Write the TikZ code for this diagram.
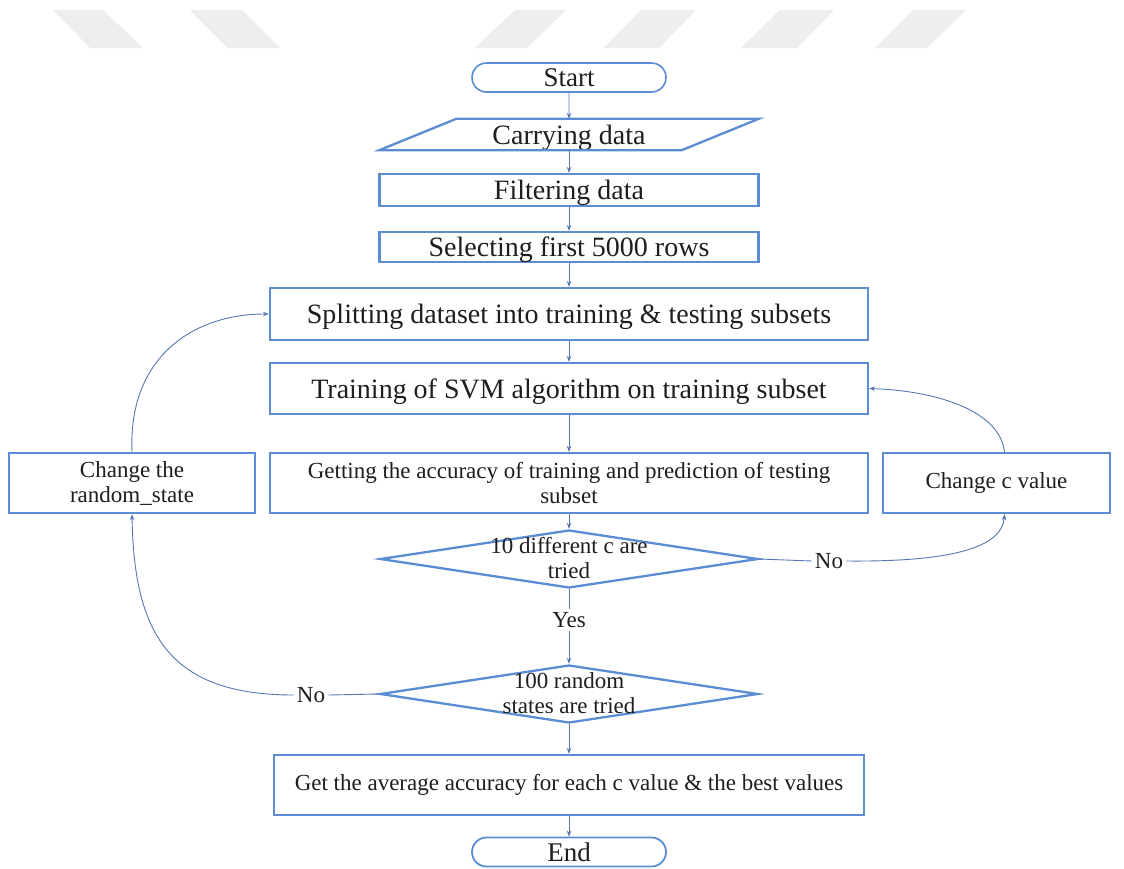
\documentclass[tikz,border=0pt]{standalone}
\usepackage{fontspec}
\setmainfont{Liberation Serif}
\usetikzlibrary{shapes.geometric,shapes.misc,arrows.meta,calc}
\definecolor{boxblue}{RGB}{92,140,210}
\definecolor{linkblue}{RGB}{85,120,180}
\definecolor{markgray}{RGB}{238,238,238}
\definecolor{ink}{RGB}{30,30,30}

\begin{document}
\begin{tikzpicture}[x=1pt,y=-1pt,
  box/.style={draw=boxblue, line width=2.3pt, rectangle, inner sep=0pt, text=ink, align=center},
  plainbox/.style={rectangle, inner sep=0pt, text=ink, align=center},
  big/.style={font=\fontsize{28}{30}\selectfont, text height=24pt, text depth=5pt},
  small/.style={font=\fontsize{23}{25}\selectfont},
  term/.style={draw=boxblue, line width=1.6pt, rounded rectangle, minimum width=194pt,
    minimum height=29pt, inner sep=0pt, text=ink, font=\fontsize{27}{29}\selectfont},
  dec/.style={draw=boxblue, line width=2.3pt, diamond, minimum width=378pt,
    minimum height=58pt, inner sep=0pt},
  lbl/.style={text=ink, align=center, inner sep=3pt},
  link/.style={draw=linkblue, line width=0.9pt},
  arr/.style={link, -{Stealth[length=6pt,width=4.5pt]}},
  band/.style={fill=markgray, draw=none},
]
% page
\useasboundingbox (0,0) rectangle (1124,868);
\fill[white] (0,0) rectangle (1124,868);

% light slanted bands along the top edge
\fill[band] (53,10) -- (103,10) -- (143,48) -- (90,48) -- cycle;
\fill[band] (190,10) -- (242,10) -- (280,48) -- (228,48) -- cycle;
\fill[band] (515,10) -- (566,10) -- (527,48) -- (475,48) -- cycle;
\fill[band] (641,10) -- (696,10) -- (659,48) -- (604,48) -- cycle;
\fill[band] (780,10) -- (834,10) -- (797,48) -- (741,48) -- cycle;
\fill[band] (913,10) -- (966,10) -- (927,48) -- (875,48) -- cycle;

% main column
\node[term] (start) at (569,77.5) {Start};
\node[plainbox, big, minimum width=379pt, minimum height=31pt] (carry) at (569,134.5) {Carrying data};
\draw[draw=boxblue, line width=2.3pt, line join=miter]
  (carry.south west) -- ($(carry.south east)+(-77,0)$) -- (carry.north east)
  -- ($(carry.north west)+(77,0)$) -- cycle;
\node[box, big, minimum width=379pt, minimum height=32pt] (filt) at (569,190) {Filtering data};
\node[box, big, minimum width=379pt, minimum height=30pt] (sel) at (569,247) {Selecting first 5000 rows};
\node[box, big, minimum width=598pt, minimum height=52pt] (split) at (569,314) {Splitting dataset into training \& testing subsets};
\node[box, big, minimum width=598pt, minimum height=51pt] (train) at (569,388.5) {Training of SVM algorithm on training subset};
\node[box, small, minimum width=598pt, minimum height=60pt] (get) at (569,483) {Getting the accuracy of training and prediction of testing\\subset};
\node[dec] (d1) at (569,559) {};
\node[lbl, small] at ([yshift=1pt]d1.center) {10 different c are\\tried};
\node[lbl, small] (yes) at (569,620) {Yes};
\node[dec] (d2) at (569,694) {};
\node[lbl, small] at ([yshift=1pt]d2.center) {100 random\\states are tried};
\node[box, small, minimum width=590pt, minimum height=60pt] (final) at (569,785) {Get the average accuracy for each c value \& the best values};
\node[term, line width=1.8pt] (endn) at (569,852) {End};

% side boxes
\node[box, small, minimum width=246pt, minimum height=60pt] (crs) at (132,483) {Change the\\random\_state};
\node[box, small, minimum width=227pt, minimum height=60pt] (ccv) at (996.5,483) {Change c value};
\node[lbl, small] (no1) at (829,561) {No};
\node[lbl, small] (no2) at (311,695) {No};

% straight flow
\draw[arr] (start) -- (carry);
\draw[arr] (carry) -- (filt);
\draw[arr] (filt) -- (sel);
\draw[arr] (sel) -- (split);
\draw[arr] (split) -- (train);
\draw[arr] (train) -- (get);
\draw[arr] (get) -- (d1);
\draw[link] (d1) -- (yes);
\draw[arr] (yes) -- (d2);
\draw[arr] (d2) -- (final);
\draw[arr] (final) -- (endn);

% inner loop over c
\draw[link] (d1.east) -- (no1.west);
\draw[arr] (no1.east) .. controls (950,562) and (1002,548) .. ($(ccv.south)+(8,0)$);
\draw[arr] ($(ccv.north)+(8,0)$) .. controls (1000,412) and (940,391) .. (train.east);

% outer loop over random states
\draw[link] (d2.west) -- (no2.east);
\draw[arr] (no2.west) .. controls (170,695) and (134,635) .. (crs.south);
\draw[arr] (crs.north) .. controls (128,360) and (190,314) .. (split.west);
\end{tikzpicture}
\end{document}
